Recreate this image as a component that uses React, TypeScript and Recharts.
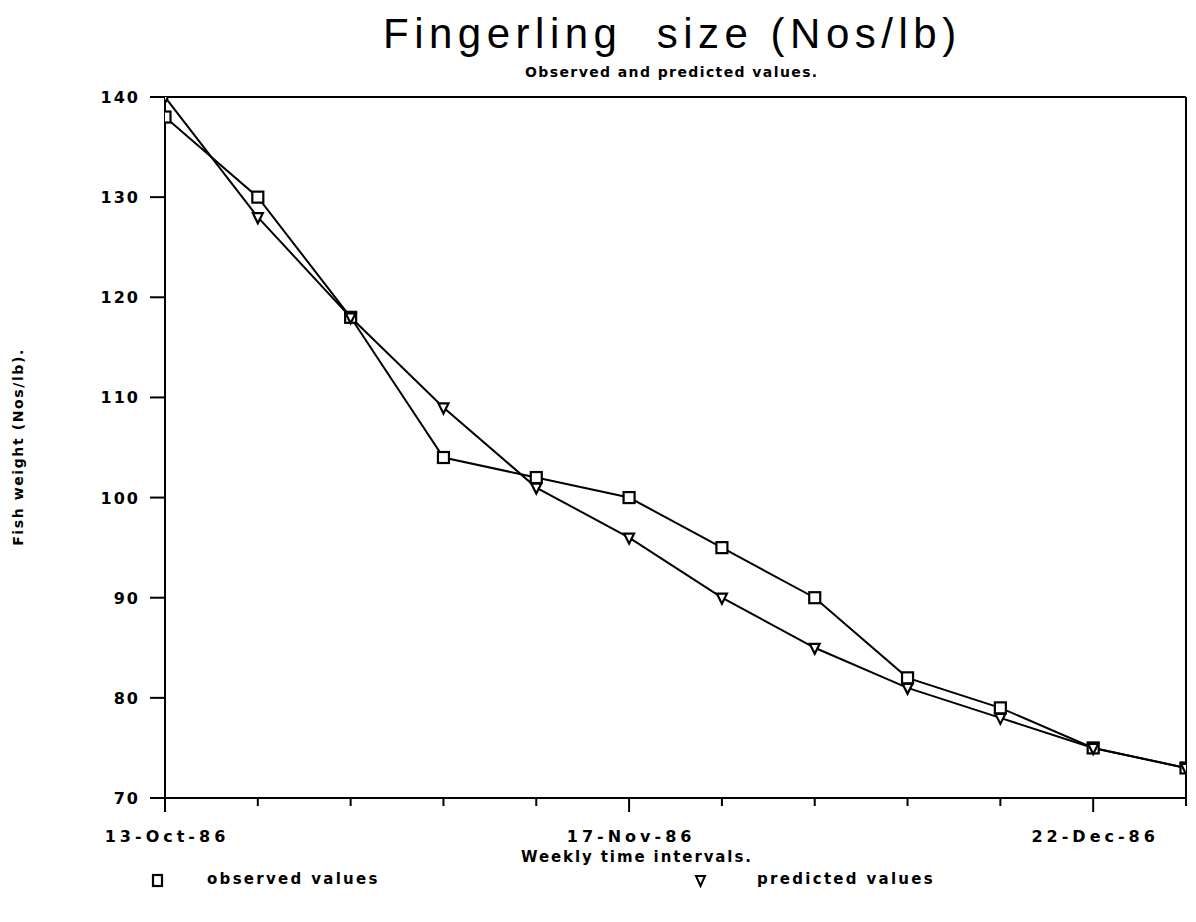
import React from "react";
import { LineChart, Line, XAxis, YAxis, ReferenceLine } from "recharts";

const weekIndex = [0, 1, 2, 3, 4, 5, 6, 7, 8, 9, 10, 11];
const tickLabels = ["13-Oct-86", "", "", "", "", "17-Nov-86", "", "", "", "", "22-Dec-86", ""];
const observed = [138, 130, 118, 104, 102, 100, 95, 90, 82, 79, 75, 73];
const predicted = [140, 128, 118, 109, 101, 96, 90, 85, 81, 78, 75, 73];
const yTicks = [70, 80, 90, 100, 110, 120, 130, 140];

const data = weekIndex.map((w, i) => ({ w, observed: observed[i], predicted: predicted[i] }));

const W = 1180;
const H = 906;
const LBL = "'DejaVu Sans', Verdana, sans-serif";

const SquareDot = (props: any) => {
  const { cx, cy } = props;
  if (cx == null || cy == null) return null;
  return <rect x={cx - 5.5} y={cy - 5.5} width={11} height={11} fill="#fff" stroke="#000" strokeWidth={2.2} />;
};

const TriDot = (props: any) => {
  const { cx, cy } = props;
  if (cx == null || cy == null) return null;
  return (
    <polygon
      points={`${cx - 5},${cy - 4} ${cx + 5},${cy - 4} ${cx},${cy + 6}`}
      fill="#fff"
      stroke="#000"
      strokeWidth={2.2}
    />
  );
};

const XTick = (props: any) => {
  const { x, y, payload } = props;
  const label = tickLabels[payload.value] || "";
  const major = label !== "";
  return (
    <g>
      <line x1={x} x2={x} y1={y - 1} y2={y + (major ? 14 : 8)} stroke="#000" strokeWidth={2} />
      {major && (
        <text
          x={x + 2}
          y={y + 44}
          textAnchor="middle"
          fontFamily={LBL}
          fontWeight="bold"
          fontSize={16}
          letterSpacing={4}
          fill="#000"
        >
          {label}
        </text>
      )}
    </g>
  );
};

const YTick = (props: any) => {
  const { x, y, payload } = props;
  return (
    <text
      x={x}
      y={y + 6}
      textAnchor="end"
      fontFamily={LBL}
      fontWeight="bold"
      fontSize={16}
      letterSpacing={2}
      fill="#000"
    >
      {payload.value}
    </text>
  );
};

const txt = (size: number, spacing: number): React.CSSProperties => ({
  fontFamily: LBL,
  fontWeight: "bold",
  fontSize: size,
  letterSpacing: spacing,
  whiteSpace: "nowrap",
  color: "#000",
});

export default function App() {
  return (
    <div style={{ position: "relative", width: W, height: H, background: "#fff" }}>
      <div
        style={{
          position: "absolute",
          left: 375,
          top: 2,
          fontFamily: "'Liberation Sans', Arial, sans-serif",
          fontSize: 42,
          letterSpacing: 5.5,
          whiteSpace: "pre",
          color: "#000",
        }}
      >
        {"Fingerling  size (Nos/lb)"}
      </div>
      <div style={{ position: "absolute", left: 517, top: 56, ...txt(14, 1.4) }}>
        Observed and predicted values.
      </div>
      <div style={{ position: "absolute", left: 10, top: 439, width: 0, height: 0 }}>
        <div
          style={{
            position: "absolute",
            transform: "translate(-50%, -50%) rotate(-90deg)",
            ...txt(14, 1.6),
          }}
        >
          Fish weight (Nos/lb).
        </div>
      </div>
      <div style={{ position: "absolute", left: 513, top: 840, ...txt(15, 1.9) }}>
        Weekly time intervals.
      </div>
      <div style={{ position: "absolute", left: 0, top: 862, width: W, height: 24 }}>
        <svg style={{ position: "absolute", left: 143, top: 3 }} width={14} height={15}>
          <rect x={2} y={2} width={9} height={11} fill="#fff" stroke="#000" strokeWidth={2.2} />
        </svg>
        <div style={{ position: "absolute", left: 199, top: 0, ...txt(15, 2.3) }}>observed values</div>
        <svg style={{ position: "absolute", left: 686, top: 4 }} width={14} height={14}>
          <polygon points="2,2 11,2 6.5,12" fill="#fff" stroke="#000" strokeWidth={2} />
        </svg>
        <div style={{ position: "absolute", left: 749, top: 0, ...txt(15, 2.3) }}>predicted values</div>
      </div>
      <div style={{ position: "absolute", left: 0, top: 0 }}>
        <LineChart width={W} height={H} data={data} margin={{ top: 89, right: 2, bottom: 56, left: 0 }}>
          <XAxis
            dataKey="w"
            type="number"
            domain={[0, 11]}
            ticks={weekIndex}
            interval={0}
            tick={<XTick />}
            tickLine={false}
            tickSize={0}
            tickMargin={0}
            height={60}
            axisLine={{ stroke: "#000", strokeWidth: 2 }}
            allowDataOverflow
          />
          <YAxis
            type="number"
            domain={[70, 140]}
            ticks={yTicks}
            interval={0}
            width={157}
            tickSize={15}
            tickMargin={10}
            tickLine={{ stroke: "#000", strokeWidth: 2 }}
            tick={<YTick />}
            axisLine={{ stroke: "#000", strokeWidth: 2 }}
            allowDataOverflow
          />
          <ReferenceLine y={140} stroke="#000" strokeWidth={2} ifOverflow="visible" />
          <ReferenceLine x={11} stroke="#000" strokeWidth={2} ifOverflow="visible" />
          <Line
            type="linear"
            dataKey="observed"
            stroke="#000"
            strokeWidth={2}
            dot={<SquareDot />}
            activeDot={false}
            isAnimationActive={false}
          />
          <Line
            type="linear"
            dataKey="predicted"
            stroke="#000"
            strokeWidth={2}
            dot={<TriDot />}
            activeDot={false}
            isAnimationActive={false}
          />
        </LineChart>
      </div>
    </div>
  );
}
